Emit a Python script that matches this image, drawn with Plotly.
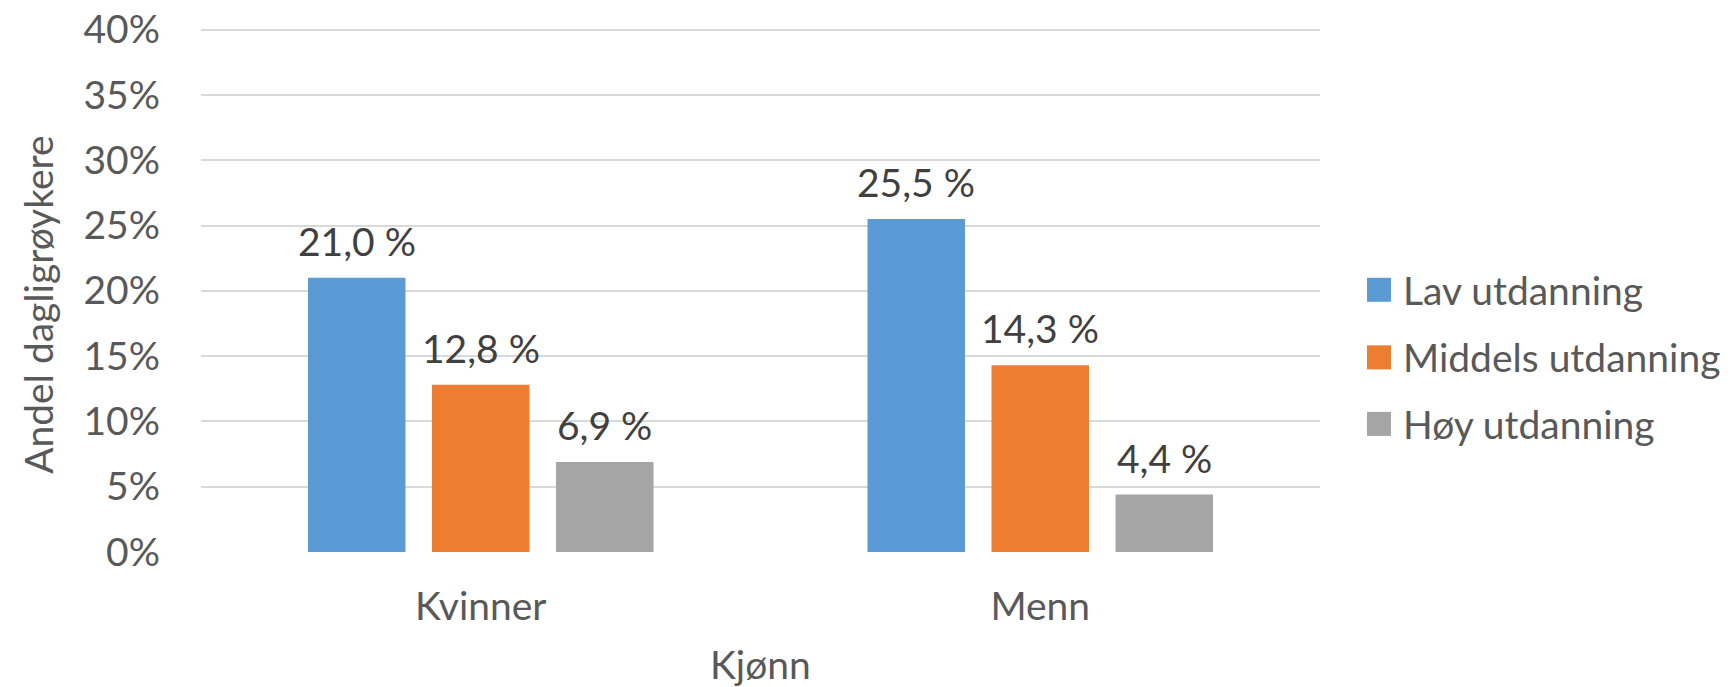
import plotly.graph_objects as go

# ---- data ----
categories = ["Kvinner", "Menn"]
series_names = ["Lav utdanning", "Middels utdanning", "Høy utdanning"]
lav = [21.0, 25.5]
middels = [12.8, 14.3]
hoy = [6.9, 4.4]
y_ticks = [0, 5, 10, 15, 20, 25, 30, 35, 40]
y_tick_labels = ["0%", "5%", "10%", "15%", "20%", "25%", "30%", "35%", "40%"]
x_title = "Kjønn"
y_title = "Andel dagligrøykere"

colors = ["#5B9BD5", "#ED7D31", "#A5A5A5"]
series_values = [lav, middels, hoy]

W, H = 1733, 687
Y_MAX = 40.2
UNIT_PX = (552 - 30) / 40.0
L, R = 201, 1733 - 1320
B = 687 - 552
T = 552 - UNIT_PX * Y_MAX
PW, PH = W - L - R, H - T - B
BARGAP, BARGROUPGAP = 0.335, 0.214
FONT = "Lato"
FS = 39

def fmt(v):
    return f"{v:.1f} %".replace(".", ",")

def px_x(px):
    return (px - L) / PW

def px_y(py):
    return (H - B - py) / PH

fig = go.Figure()
for name, vals, col in zip(series_names, series_values, colors):
    fig.add_trace(go.Bar(
        x=categories, y=vals, name=name,
        marker=dict(color=col, line=dict(width=0)),
        showlegend=False,
    ))

# data labels above bars
band_px = PW / len(categories)
slot_px = band_px * (1 - BARGAP) / len(series_names)
annotations = []
for i, (vals, name) in enumerate(zip(series_values, series_names)):
    for cat, v in zip(categories, vals):
        annotations.append(dict(
            x=cat, y=v, xref="x", yref="y", text=fmt(v), showarrow=False,
            xshift=(i - 1) * slot_px, yshift=37, yanchor="middle",
            font=dict(family=FONT, size=FS, color="#404040"),
        ))

# axis titles
annotations.append(dict(
    x=px_x(38), y=px_y(305), xref="paper", yref="paper", text=y_title,
    textangle=-90, showarrow=False, xanchor="center", yanchor="middle",
    font=dict(family=FONT, size=FS, color="#595959"),
))
annotations.append(dict(
    x=0.5, y=px_y(664), xref="paper", yref="paper", text=x_title,
    showarrow=False, xanchor="center", yanchor="middle",
    font=dict(family=FONT, size=FS, color="#595959"),
))

# manual legend
shapes = []
legend_rows = [290, 357.5, 424]
for name, col, cy in zip(series_names, colors, legend_rows):
    shapes.append(dict(
        type="rect", xref="paper", yref="paper",
        x0=px_x(1367), x1=px_x(1391), y0=px_y(cy + 12), y1=px_y(cy - 12),
        fillcolor=col, line=dict(width=0),
    ))
    annotations.append(dict(
        x=px_x(1401), y=px_y(cy), xref="paper", yref="paper", text=name,
        showarrow=False, xanchor="left", yanchor="middle",
        font=dict(family=FONT, size=FS, color="#595959"),
    ))

fig.update_layout(
    width=W, height=H,
    margin=dict(l=L, r=R, t=T, b=B, autoexpand=False),
    paper_bgcolor="white", plot_bgcolor="white",
    barmode="group", bargap=BARGAP, bargroupgap=BARGROUPGAP,
    showlegend=False,
    annotations=annotations, shapes=shapes,
    font=dict(family=FONT, size=FS, color="#595959"),
)
fig.update_xaxes(
    type="category", showgrid=False, zeroline=False, showline=False,
    ticks="", ticklabelstandoff=28,
    tickfont=dict(family=FONT, size=FS, color="#595959"),
)
fig.update_yaxes(
    range=[0, Y_MAX], tickmode="array", tickvals=y_ticks, ticktext=y_tick_labels,
    showgrid=True, gridcolor="#D9D9D9", gridwidth=1.5,
    zeroline=False, showline=False, ticks="", ticklabelstandoff=40,
    tickfont=dict(family=FONT, size=FS, color="#595959"),
)

fig.write_html(
    "out.html",
    config={"displayModeBar": False},
    post_script="document.body.style.margin='0';document.body.style.overflow='hidden';",
)
